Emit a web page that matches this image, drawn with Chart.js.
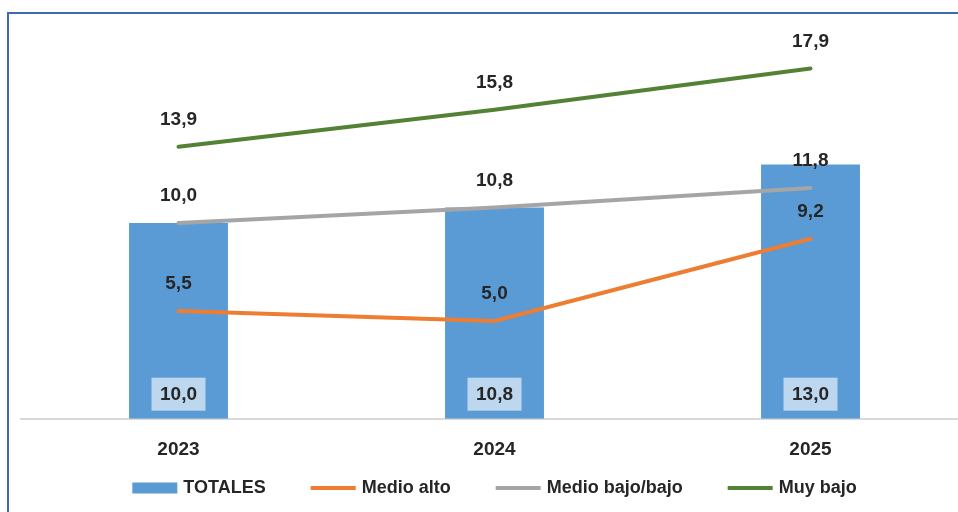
<!DOCTYPE html>
<html>
<head>
<meta charset="utf-8">
<script src="https://cdn.jsdelivr.net/npm/chart.js@4"></script>
<style>
  html, body { margin: 0; padding: 0; background: #fff; overflow: hidden; width: 958px; height: 512px; }
  #frame { position: absolute; left: 7px; top: 12px; width: 2000px; height: 2000px;
           border-left: 2px solid #4169ad; border-top: 2px solid #4169ad; }
  #chart { position: absolute; left: 0; top: 0; }
</style>
</head>
<body>
<div id="frame"></div>
<canvas id="chart" width="990" height="512"></canvas>
<script>
// categories and series
const years = ['2023', '2024', '2025'];
const totales = [10.0, 10.8, 13.0];
const medioAlto = [5.5, 5.0, 9.2];
const medioBajo = [10.0, 10.8, 11.8];
const muyBajo = [13.9, 15.8, 17.9];

const fmt = v => v.toFixed(1).replace('.', ',');
const FONT = '"Liberation Sans", Arial, sans-serif';

// value labels: boxed for bars, above point for lines
const valueLabels = {
    id: 'valueLabels',
    afterDatasetsDraw(chart) {
        const ctx = chart.ctx;
        ctx.save();
        ctx.font = 'bold 19px ' + FONT;
        ctx.textAlign = 'center';
        ctx.textBaseline = 'middle';
        chart.data.datasets.forEach((ds, i) => {
            const meta = chart.getDatasetMeta(i);
            meta.data.forEach((el, j) => {
                const txt = fmt(ds.data[j]);
                if (ds.type === 'bar') {
                    const base = el.base;
                    ctx.fillStyle = '#bdd7ee';
                    ctx.fillRect(el.x - 27, base - 41, 54, 33);
                    ctx.fillStyle = '#262626';
                    ctx.fillText(txt, el.x, base - 24);
                } else {
                    ctx.fillStyle = '#262626';
                    ctx.fillText(txt, el.x, el.y - 27);
                }
            });
        });
        ctx.restore();
    }
};

// legend row under the axis, centred on the plot
const bottomLegend = {
    id: 'bottomLegend',
    afterDraw(chart) {
        const ctx = chart.ctx;
        const y = 488, mark = 45, gap = 6, space = 45;
        ctx.save();
        ctx.font = 'bold 18px ' + FONT;
        ctx.textBaseline = 'middle';
        const items = chart.data.datasets.map(ds => ({ ds, w: mark + gap + ctx.measureText(ds.label).width }));
        const total = items.reduce((s, it) => s + it.w, 0) + space * (items.length - 1);
        let x = (chart.chartArea.left + chart.chartArea.right) / 2 - total / 2;
        items.forEach(({ ds, w }) => {
            if (ds.type === 'bar') {
                ctx.fillStyle = ds.backgroundColor;
                ctx.fillRect(x, y - 5.5, mark, 11);
            } else {
                ctx.strokeStyle = ds.borderColor;
                ctx.lineWidth = 4;
                ctx.beginPath();
                ctx.moveTo(x, y);
                ctx.lineTo(x + mark, y);
                ctx.stroke();
            }
            ctx.fillStyle = '#262626';
            ctx.fillText(ds.label, x + mark + gap, y);
            x += w + space;
        });
        ctx.restore();
    }
};

const lineSet = (label, data, color, order) => ({
    type: 'line', label, data, order,
    borderColor: color, backgroundColor: color,
    borderWidth: 4, pointRadius: 0, tension: 0, borderCapStyle: 'round'
});

new Chart(document.getElementById('chart').getContext('2d'), {
    data: {
        labels: years,
        datasets: [
            { type: 'bar', label: 'TOTALES', data: totales, order: 4,
              backgroundColor: '#5b9bd5', barPercentage: 0.313, categoryPercentage: 1 },
            lineSet('Medio alto', medioAlto, '#ed7d31', 3),
            lineSet('Medio bajo/bajo', medioBajo, '#a5a5a5', 2),
            lineSet('Muy bajo', muyBajo, '#548235', 1)
        ]
    },
    options: {
        responsive: false,
        devicePixelRatio: 1,
        animation: false,
        layout: { padding: { left: 20.5, right: 21.5, top: 27.5, bottom: 30.5 } },
        scales: {
            x: {
                offset: true,
                grid: { display: false, drawTicks: false },
                border: { display: true, color: '#d9d9d9', width: 2 },
                ticks: { color: '#262626', font: { family: FONT, size: 19, weight: 'bold' }, padding: 20 }
            },
            y: { display: false, min: 0, max: 20 }
        },
        plugins: {
            tooltip: { enabled: false },
            legend: { display: false }
        }
    },
    plugins: [valueLabels, bottomLegend]
});
</script>
</body>
</html>
